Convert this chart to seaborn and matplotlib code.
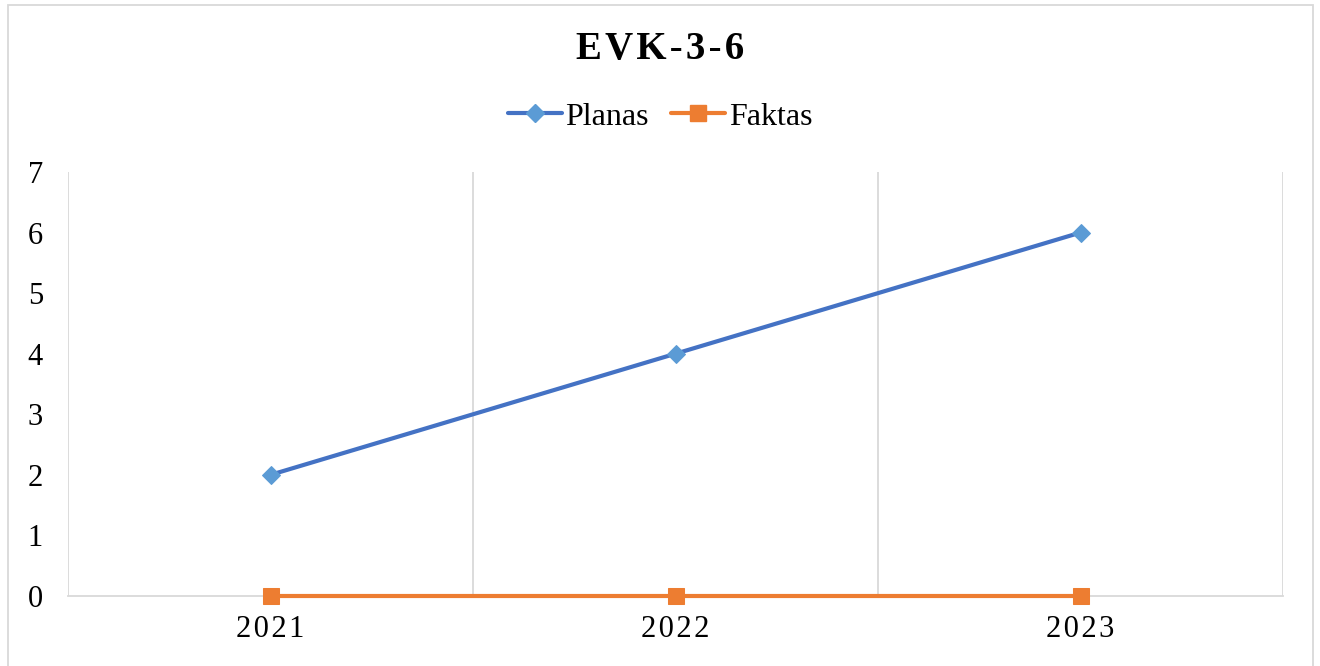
import matplotlib
matplotlib.use("Agg")
import matplotlib.pyplot as plt
import seaborn as sns
import pandas as pd
from matplotlib.patches import Rectangle

# ── Data ──────────────────────────────────────────────────────────────────────
years   = ["2021", "2022", "2023"]
planas  = [2, 4, 6]
faktas  = [0, 0, 0]
series  = ["Planas", "Faktas"]
y_ticks = [0, 1, 2, 3, 4, 5, 6, 7]
# ──────────────────────────────────────────────────────────────────────────────

df = pd.DataFrame({
    "idx":   list(range(len(years))) * 2,
    "value": planas + faktas,
    "serie": [series[0]] * len(years) + [series[1]] * len(years),
})

sns.set_style("white")
plt.rcParams["font.family"] = ["Liberation Serif", "DejaVu Serif"]
plt.rcParams["text.color"] = "black"
plt.rcParams["xtick.color"] = "black"
plt.rcParams["ytick.color"] = "black"

fig = plt.figure(figsize=(13.2, 6.66), dpi=100)
ax = fig.add_axes([68 / 1320, 70 / 666, (1283 - 68) / 1320, (596 - 172) / 666])

line_colors = {"Planas": "#4472C4", "Faktas": "#ED7D31"}
sns.lineplot(data=df, x="idx", y="value", hue="serie", palette=line_colors,
             style="serie", markers={"Planas": "D", "Faktas": "s"}, dashes=False,
             linewidth=3, markersize=11, ax=ax, legend=False, zorder=3)

# marker colours differ slightly from line colours (Excel style)
lines = ax.get_lines()
lines[0].set_markerfacecolor("#5B9BD5")
lines[0].set_markeredgecolor("#5B9BD5")
lines[0].set_markersize(9.5)
lines[1].set_markerfacecolor("#ED7D31")
lines[1].set_markeredgecolor("#ED7D31")
lines[1].set_markersize(12)
for ln in lines:
    ln.set_clip_on(False)

ax.set_xlim(-0.5, len(years) - 0.5)
ax.set_ylim(0, 7)
ax.set_yticks(y_ticks)
ax.set_yticklabels([str(v) for v in y_ticks], fontsize=22)
ax.set_xticks(range(len(years)))
ax.set_xticklabels(["\u200a".join(y) for y in years], fontsize=22)
ax.tick_params(axis="y", length=0, pad=18)
ax.tick_params(axis="x", length=0, pad=14)
ax.set_xlabel("")
ax.set_ylabel("")

# vertical gridlines between categories
for xb in [i - 0.5 for i in range(len(years) + 1)]:
    ax.axvline(xb, color="#d9d9d9", linewidth=1.3, zorder=1)

for side in ["top", "right", "left"]:
    ax.spines[side].set_visible(False)
ax.spines["bottom"].set_color("#d9d9d9")
ax.spines["bottom"].set_linewidth(1.3)

# legend
handles = [plt.Line2D([], [], color="#4472C4", lw=3, marker="D", ms=9.5,
                      mfc="#5B9BD5", mec="#5B9BD5"),
           plt.Line2D([], [], color="#ED7D31", lw=3, marker="s", ms=12,
                      mfc="#ED7D31", mec="#ED7D31")]
fig.legend(handles, series, loc="center", bbox_to_anchor=(660 / 1320, 1 - 117 / 666),
           ncol=2, frameon=False, fontsize=23, handlelength=1.7,
           handletextpad=0.1, columnspacing=0.7)

fig.text(660 / 1320, 1 - 50 / 666, "E\u200aV\u200aK\u200a-\u200a3\u200a-\u200a6",
         ha="center", va="center", fontsize=28, fontweight="bold")

# outer chart border
fig.patches.append(Rectangle((8 / 1320, -0.01), (1313 - 8) / 1320, 1 - 5 / 666 + 0.01,
                             transform=fig.transFigure, fill=False,
                             edgecolor="#d9d9d9", linewidth=1.3))

fig.savefig("out.png", dpi=100)
plt.close(fig)
